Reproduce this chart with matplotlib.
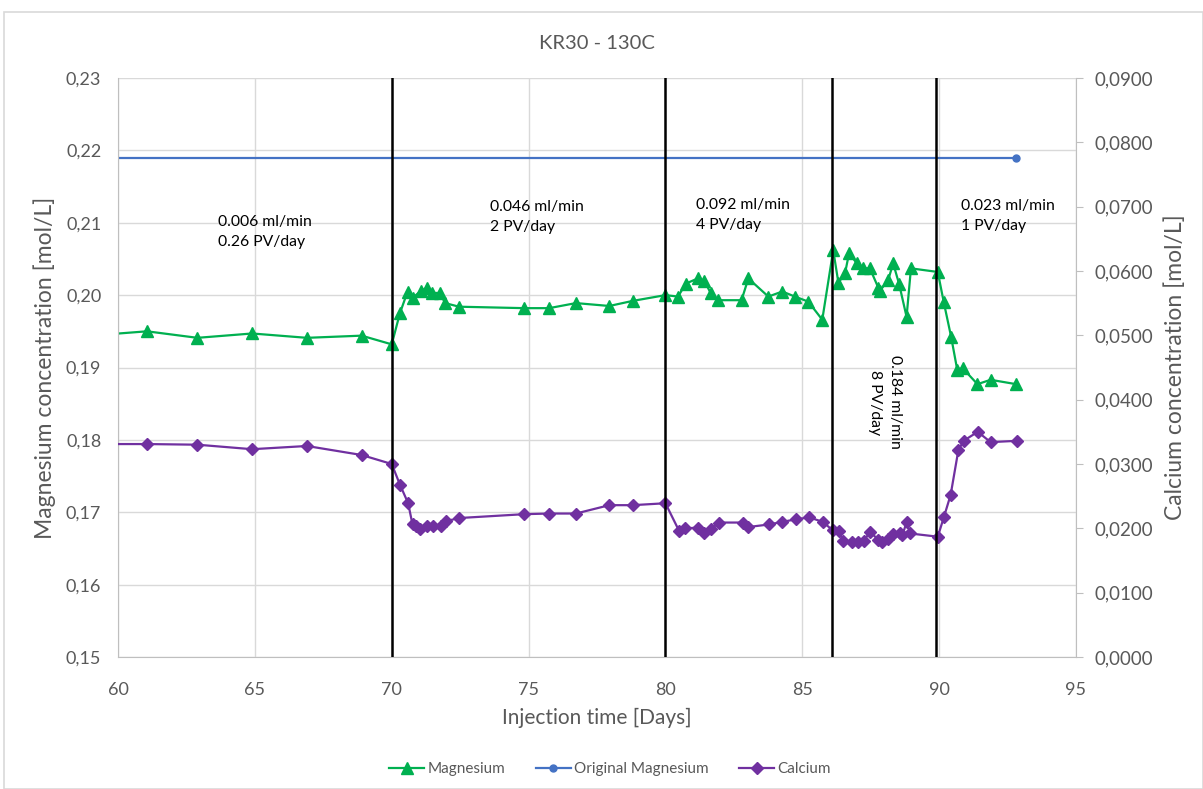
import matplotlib.pyplot as plt
from matplotlib.ticker import FuncFormatter, MultipleLocator
from matplotlib.patches import Rectangle

plt.rcParams['font.family'] = ['Lato', 'DejaVu Sans']

# Magnesium (left axis)
mg_days = [59.0, 61.06, 62.9, 64.9, 66.9, 68.9, 70.0, 70.3, 70.58, 70.76, 71.07, 71.28, 71.49,
           71.76, 71.95, 72.46, 74.84, 75.75, 76.73, 77.95, 78.8, 80.0, 80.46, 80.75, 81.18,
           81.42, 81.65, 81.93, 82.78, 83.03, 83.76, 84.27, 84.73, 85.22, 85.73, 86.13, 86.32,
           86.56, 86.71, 86.99, 87.23, 87.47, 87.78, 87.84, 88.14, 88.32, 88.54, 88.81, 88.97,
           89.95, 90.17, 90.44, 90.66, 90.86, 91.40, 91.88, 92.81]
mg_vals = [0.1944, 0.1950, 0.1941, 0.1947, 0.1941, 0.1944, 0.1932, 0.1975, 0.2005, 0.1996,
           0.2006, 0.2010, 0.2003, 0.2003, 0.1989, 0.1984, 0.1982, 0.1982, 0.1989, 0.1985,
           0.1992, 0.2000, 0.1998, 0.2016, 0.2023, 0.2020, 0.2003, 0.1993, 0.1993, 0.2023,
           0.1998, 0.2005, 0.1998, 0.1991, 0.1966, 0.2062, 0.2017, 0.2030, 0.2058, 0.2044,
           0.2037, 0.2037, 0.2010, 0.2006, 0.2021, 0.2044, 0.2015, 0.1970, 0.2037, 0.2032,
           0.1990, 0.1942, 0.1897, 0.1899, 0.1877, 0.1883, 0.1877]

# Original magnesium (injected brine)
orig_days = [0.0, 92.81]
orig_vals = [0.219, 0.219]

# Calcium (right axis)
ca_days = [59.0, 61.06, 62.9, 64.9, 66.9, 68.9, 70.0, 70.3, 70.6, 70.76, 70.9, 71.05, 71.28,
           71.52, 71.8, 71.97, 72.46, 74.84, 75.75, 76.73, 77.95, 78.8, 80.0, 80.5, 80.72,
           81.18, 81.42, 81.67, 81.96, 82.82, 83.02, 83.78, 84.27, 84.76, 85.26, 85.75, 86.11,
           86.35, 86.48, 86.8, 87.05, 87.25, 87.47, 87.78, 87.9, 88.12, 88.32, 88.57, 88.66,
           88.81, 88.94, 89.95, 90.17, 90.42, 90.7, 90.89, 91.41, 91.88, 92.83]
ca_vals = [0.0331, 0.0331, 0.0330, 0.0323, 0.0328, 0.0314, 0.0300, 0.0268, 0.0239, 0.0206,
           0.0204, 0.0199, 0.0204, 0.0203, 0.0204, 0.0211, 0.0216, 0.0222, 0.0223, 0.0223,
           0.0236, 0.0236, 0.0239, 0.0196, 0.0200, 0.0201, 0.0193, 0.0199, 0.0209, 0.0209,
           0.0202, 0.0206, 0.0210, 0.0214, 0.0217, 0.0210, 0.0197, 0.0196, 0.0180, 0.0179,
           0.0179, 0.0180, 0.0195, 0.0182, 0.0179, 0.0183, 0.0191, 0.0193, 0.0189, 0.0210,
           0.0192, 0.0187, 0.0217, 0.0252, 0.0321, 0.0336, 0.0350, 0.0334, 0.0336]

# flow rate changes
rate_changes = [70.0, 80.0, 86.1, 89.9]
rate_labels = ['0.006 ml/min\n0.26 PV/day', '0.046 ml/min\n2 PV/day',
               '0.092 ml/min\n4 PV/day', '0.023 ml/min\n1 PV/day']
rate_label_x = [63.65, 73.6, 81.1, 90.8]
rate_label_y = [0.2111, 0.2131, 0.2134, 0.2133]

GREEN = '#00B050'
BLUE = '#4472C4'
PURPLE = '#7030A0'
GRAY = '#595959'
GRID = '#d9d9d9'

fig = plt.figure(figsize=(12.03, 7.89), dpi=100)
fig.patches.append(Rectangle((4 / 1203, 0), 1 - 4 / 1203, 1 - 12 / 789, transform=fig.transFigure,
                             fill=False, edgecolor=GRID, linewidth=1.2))
ax = fig.add_axes([118 / 1203, 1 - 657 / 789, (1076 - 118) / 1203, (657 - 78) / 789])
ax2 = ax.twinx()

l_mg, = ax.plot(mg_days, mg_vals, color=GREEN, lw=1.6, marker='^', markersize=8.5, label='Magnesium')
l_orig, = ax.plot(orig_days, orig_vals, color=BLUE, lw=1.6, marker='o', markersize=5,
                  label='Original Magnesium')
l_ca, = ax2.plot(ca_days, ca_vals, color=PURPLE, lw=1.6, marker='D', markersize=6.5, label='Calcium')

for d in rate_changes:
    ax2.axvline(d, color='black', lw=1.8, zorder=5)

ax.set_xlim(60, 95)
ax.set_ylim(0.15, 0.23)
ax2.set_ylim(0, 0.09)
ax.xaxis.set_major_locator(MultipleLocator(5))
ax.yaxis.set_major_locator(MultipleLocator(0.01))
ax2.yaxis.set_major_locator(MultipleLocator(0.01))
ax.yaxis.set_major_formatter(FuncFormatter(lambda v, p: f'{v:.2f}'.replace('.', ',')))
ax2.yaxis.set_major_formatter(FuncFormatter(lambda v, p: f'{v:.4f}'.replace('.', ',')))

ax.grid(True, color=GRID, lw=1)
ax.set_axisbelow(True)
for a in (ax, ax2):
    for s in a.spines.values():
        s.set_visible(False)
ax.spines['left'].set_visible(True)
ax.spines['bottom'].set_visible(True)
ax2.spines['right'].set_visible(True)
for s in (ax.spines['left'], ax.spines['bottom'], ax2.spines['right']):
    s.set_color('#bfbfbf')
ax.tick_params(axis='y', length=0, labelsize=13, labelcolor=GRAY, pad=12)
ax.tick_params(axis='x', length=0, labelsize=13, labelcolor=GRAY, pad=18)
ax2.tick_params(axis='y', length=5, color='#bfbfbf', labelsize=13.5, labelcolor=GRAY, pad=8)

ax.set_xlabel('Injection time [Days]', fontsize=15, color=GRAY, labelpad=7)
ax.set_ylabel('Magnesium concentration [mol/L]', fontsize=16.5, color=GRAY, labelpad=7)
ax2.set_ylabel('Calcium concentration [mol/L]', fontsize=16.5, color=GRAY, labelpad=8)
ax.set_title('KR30 - 130C', fontsize=14.5, color=GRAY, pad=21)

for txt, x, y in zip(rate_labels, rate_label_x, rate_label_y):
    ax.text(x, y, txt, fontsize=11.3, color='black', ha='left', va='top', linespacing=1.55)
ax.text(88.02, 0.1917, '0.184 ml/min\n8 PV/day', fontsize=11.3, color='black', rotation=-90,
        ha='center', va='top', linespacing=1.55)

fig.legend(handles=[l_mg, l_orig, l_ca], loc='center', bbox_to_anchor=(0.507, 1 - 769 / 789),
           ncol=3, frameon=False, fontsize=11, labelcolor=GRAY, handlelength=2.3,
           handletextpad=0.2, columnspacing=2.0)

fig.savefig('out.png', dpi=100)
